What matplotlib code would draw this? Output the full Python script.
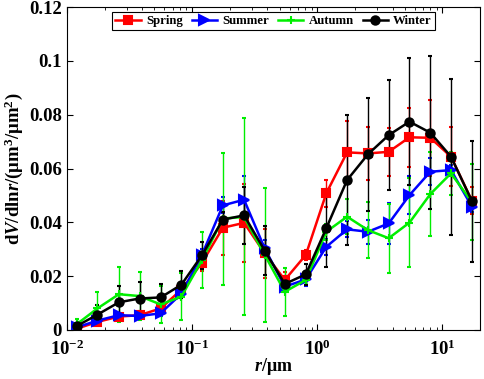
import math

import matplotlib
matplotlib.use("Agg")
import matplotlib.pyplot as plt
from matplotlib.ticker import FuncFormatter, LogLocator, MultipleLocator

# particle radius (um)
radius = [0.012, 0.0175, 0.026, 0.038, 0.056, 0.082, 0.12, 0.176, 0.26, 0.38,
          0.55, 0.81, 1.18, 1.73, 2.54, 3.72, 5.45, 8.0, 11.7, 17.2]

spring = [0.0005, 0.003, 0.005, 0.0055, 0.008, 0.015, 0.025, 0.038, 0.0398, 0.0285,
          0.0186, 0.0279, 0.0508, 0.066, 0.0656, 0.0662, 0.0716, 0.0714, 0.0644, 0.048]
spring_err = [0.0005, 0.001, 0.0015, 0.0015, 0.0015, 0.002, 0.003, 0.01, 0.0145, 0.009,
              0.003, 0.002, 0.005, 0.0115, 0.01, 0.009, 0.011, 0.014, 0.011, 0.005]

summer = [0.001, 0.0035, 0.0055, 0.0052, 0.0062, 0.0135, 0.028, 0.0463, 0.0484, 0.0303,
          0.0161, 0.0188, 0.0309, 0.0374, 0.0365, 0.0396, 0.0501, 0.0588, 0.0594, 0.0458]
summer_err = [0.0005, 0.001, 0.001, 0.001, 0.001, 0.0015, 0.002, 0.003, 0.009, 0.003,
              0.002, 0.0025, 0.003, 0.003, 0.0045, 0.0075, 0.007, 0.005, 0.002, 0.002]

autumn = [0.0022, 0.008, 0.0133, 0.0126, 0.0095, 0.0124, 0.026, 0.0414, 0.042, 0.0279,
          0.0142, 0.0186, 0.0365, 0.0421, 0.0371, 0.0341, 0.0399, 0.0505, 0.0582, 0.0475]
autumn_err = [0.0017, 0.006, 0.0102, 0.009, 0.007, 0.0088, 0.0105, 0.0245, 0.0366, 0.025,
              0.009, 0.002, 0.003, 0.0066, 0.0105, 0.0128, 0.0164, 0.0157, 0.008, 0.014]

winter = [0.0015, 0.0057, 0.0103, 0.0117, 0.0121, 0.0168, 0.0278, 0.041, 0.0426, 0.0295,
          0.0171, 0.0207, 0.0378, 0.0557, 0.0653, 0.0724, 0.0774, 0.0733, 0.0644, 0.0479]
winter_err = [0.001, 0.0035, 0.006, 0.006, 0.005, 0.005, 0.005, 0.003, 0.0105, 0.009,
              0.002, 0.004, 0.0145, 0.024, 0.021, 0.0205, 0.0235, 0.0285, 0.029, 0.0225]

plt.rcParams["font.family"] = "Liberation Serif"
plt.rcParams["font.weight"] = "bold"
plt.rcParams["mathtext.fontset"] = "custom"
plt.rcParams["mathtext.rm"] = "Liberation Serif:weight=bold"
plt.rcParams["mathtext.bf"] = "Liberation Serif:weight=bold"
plt.rcParams["mathtext.it"] = "Liberation Serif:style=italic:weight=bold"

fig = plt.figure(figsize=(4.84, 3.79), dpi=100)
ax = fig.add_axes((0.1384, 0.1293, 0.8536, 0.8522))

series = [
    ("Spring", spring, spring_err, "#ff0000", "s", 6),
    ("Summer", summer, summer_err, "#0000ff", ">", 7),
    ("Autumn", autumn, autumn_err, "#00ee00", "+", 6),
    ("Winter", winter, winter_err, "#000000", "o", 6),
]
for name, vals, errs, color, marker, ms in series:
    ax.errorbar(radius, vals, yerr=errs, color=color, marker=marker, markersize=ms,
                linewidth=1.8, elinewidth=1.0, capsize=1.5, capthick=1.0,
                markeredgewidth=1.5, label=name)

ax.set_xscale("log")
ax.set_xlim(0.01, 20)
ax.set_ylim(0, 0.12)
ax.yaxis.set_major_locator(MultipleLocator(0.02))
ax.yaxis.set_major_formatter(FuncFormatter(lambda v, p: "%g" % round(v, 4)))
ax.xaxis.set_major_locator(LogLocator(base=10))
ax.xaxis.set_minor_locator(LogLocator(base=10, subs=range(2, 10)))
ax.xaxis.set_major_formatter(
    FuncFormatter(lambda v, p: r"$\mathbf{10^{%d}}$" % round(math.log10(v))))

ax.tick_params(which="both", direction="in", top=True, right=True, labelsize=13.5)
ax.tick_params(which="major", length=4)
ax.tick_params(which="minor", length=2)
ax.tick_params(axis="x", pad=7)
for lbl in ax.get_yticklabels():
    lbl.set_fontweight("bold")

ax.set_xlabel(r"$\mathit{r}$/μm", fontsize=13, fontweight="bold", labelpad=-2)
ax.set_ylabel(r"d$\mathit{V}$/dln$\mathit{r}$/(μm$^{\mathbf{3}}$/μm$^{\mathbf{2}}$)",
              fontsize=13.5, fontweight="bold", labelpad=3)

# legend shows only line + marker, no error bars
handles, labels = ax.get_legend_handles_labels()
handles = [h[0] for h in handles]
leg = ax.legend(handles, labels, loc="upper center", bbox_to_anchor=(0.5, 0.985), ncol=4,
                fontsize=9.2, frameon=True, fancybox=False, edgecolor="black",
                framealpha=1, handlelength=2.0, columnspacing=0.7, handletextpad=0.4,
                borderpad=0.25, borderaxespad=0.0)
leg.get_frame().set_linewidth(0.8)
for t in leg.get_texts():
    t.set_fontweight("bold")

fig.savefig("out.png", dpi=100)
